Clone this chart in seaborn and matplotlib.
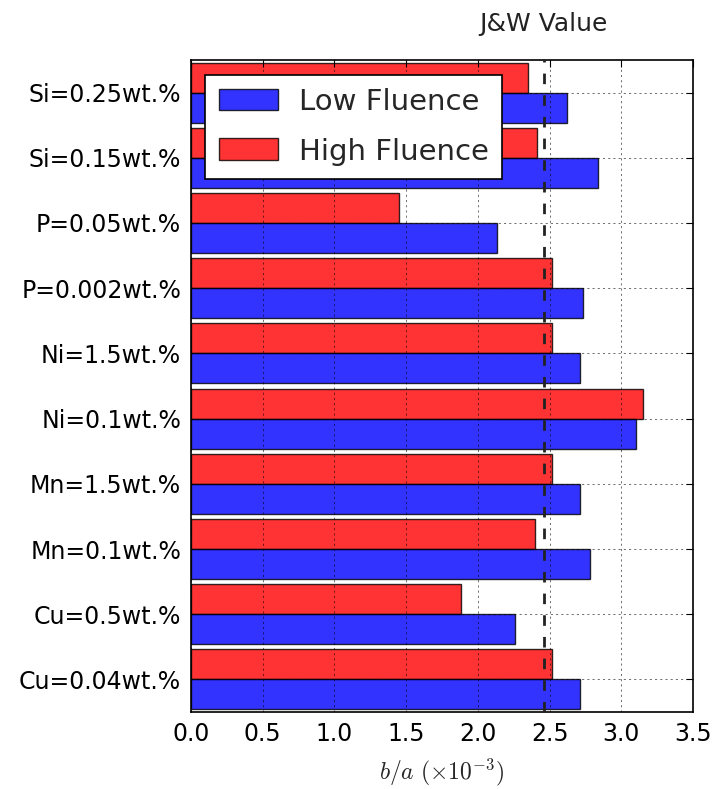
import pandas as pd
import matplotlib
matplotlib.use("Agg")
import matplotlib.pyplot as plt
import matplotlib.transforms as mtransforms
from matplotlib.patches import Patch
import seaborn as sns

# alloys, listed top to bottom as they appear on the chart
alloys = ['Si=0.25wt.%', 'Si=0.15wt.%', 'P=0.05wt.%', 'P=0.002wt.%', 'Ni=1.5wt.%',
          'Ni=0.1wt.%', 'Mn=1.5wt.%', 'Mn=0.1wt.%', 'Cu=0.5wt.%', 'Cu=0.04wt.%']
low_fluence = [2.62, 2.84, 2.13, 2.73, 2.71, 3.10, 2.71, 2.78, 2.26, 2.71]
high_fluence = [2.35, 2.41, 1.45, 2.52, 2.52, 3.15, 2.52, 2.40, 1.88, 2.52]
jw_value = 2.46
x_ticks = [0.0, 0.5, 1.0, 1.5, 2.0, 2.5, 3.0, 3.5]

colors = {'Low Fluence': 'blue', 'High Fluence': 'red'}

df = pd.concat([
    pd.DataFrame({'alloy': alloys, 'value': high_fluence, 'fluence': 'High Fluence'}),
    pd.DataFrame({'alloy': alloys, 'value': low_fluence, 'fluence': 'Low Fluence'}),
])

sns.set_theme(style="white")
plt.rcParams['font.family'] = ['DejaVu Sans']
plt.rcParams['mathtext.fontset'] = 'cm'

fig, ax = plt.subplots(figsize=(7.12, 7.89), dpi=100)
fig.subplots_adjust(left=0.268, right=0.9735, top=0.924, bottom=0.0975)

sns.barplot(data=df, x='value', y='alloy', hue='fluence', order=alloys,
            hue_order=['High Fluence', 'Low Fluence'], palette=colors,
            orient='h', width=0.92, saturation=1, errorbar=None,
            edgecolor='black', linewidth=1, alpha=0.8, legend=False, ax=ax)

# classic-style grid drawn over the bars
ax.set_axisbelow(False)
ax.grid(True, color='black', linestyle=(0, (3, 4.5)), linewidth=0.5, alpha=0.8)
ax.set_xlim(0, 3.5)
ax.set_ylim(9.5, -0.5)
ax.set_xticks(x_ticks)
ax.set_xticklabels([f'{t:.1f}' for t in x_ticks])
ax.tick_params(direction='in', top=True, right=True, length=5, width=0.8,
               labelsize=17, pad=7, colors='black')
for s in ax.spines.values():
    s.set_color('black')
    s.set_linewidth(1.2)

ax.axvline(jw_value, color='#222222', linestyle='--', linewidth=2, dashes=(3.8, 4.0), zorder=5)
trans = mtransforms.blended_transform_factory(ax.transData, ax.transAxes)
ax.text(jw_value, 1.045, 'J&W Value', transform=trans, ha='center',
        va='baseline', fontsize=18, color='#222222')

ax.set_ylabel('')
ax.set_xlabel(r'$b/a\ (\times10^{-3})$', fontsize=17, labelpad=8)

handles = [Patch(facecolor=colors[k], alpha=0.8, edgecolor='black', label=k)
           for k in ['Low Fluence', 'High Fluence']]
leg = ax.legend(handles=handles, loc='upper left', fontsize=21, fancybox=False,
                framealpha=1, edgecolor='black', handlelength=2.05, handleheight=0.78,
                handletextpad=0.7, borderaxespad=0.5, labelspacing=0.75, borderpad=0.45)
leg.get_frame().set_linewidth(1.2)
leg.set_zorder(10)

fig.savefig('out.png', dpi=100)
